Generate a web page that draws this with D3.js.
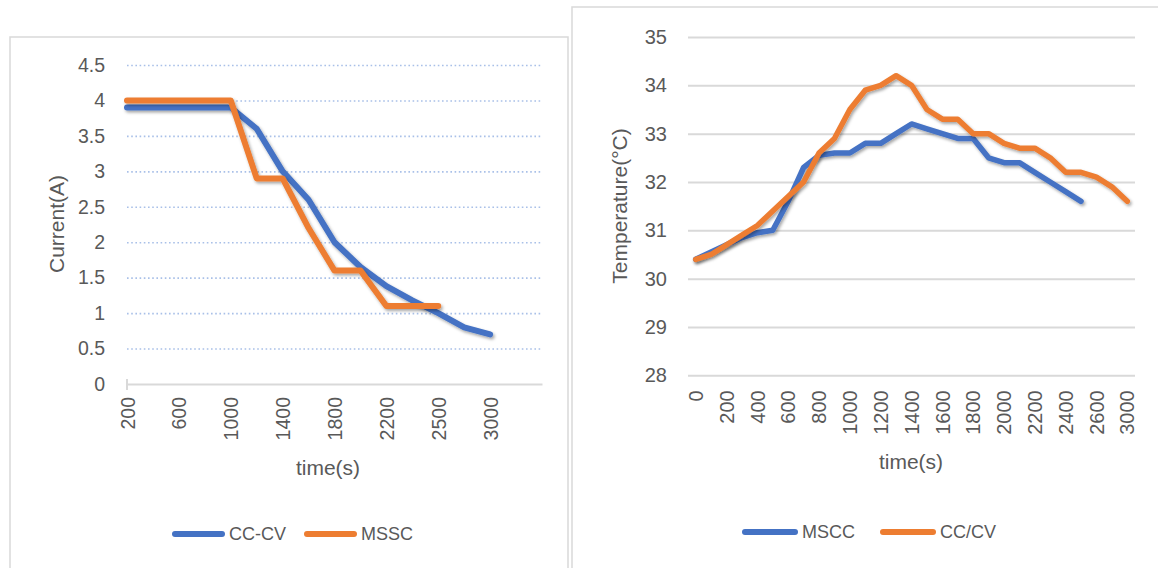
<!DOCTYPE html>
<html>
<head>
<meta charset="utf-8">
<script src="https://cdn.jsdelivr.net/npm/d3@7"></script>
<style>
  html, body { margin: 0; padding: 0; background: #fff; }
  svg { display: block; font-family: "Liberation Sans", Arial, sans-serif; }
</style>
</head>
<body>
<script>
// ---- Charging current (A) per time step ----
const currentTimes = ["200","400","600","800","1000","1200","1400","1600","1800","2000","2200","2350","2500","2750","3000"];
const currentCCCV  = [3.9,3.9,3.9,3.9,3.9,3.6,3.0,2.6,2.0,1.65,1.38,1.18,1.0,0.8,0.7];
const currentMSSC  = [4,4,4,4,4,2.9,2.9,2.2,1.6,1.6,1.1,1.1,1.1];
const currentTicks = [0,0.5,1,1.5,2,2.5,3,3.5,4,4.5];
const currentSlots = 17;          // category slots on the axis (last two are empty)

// ---- Cell temperature (°C) per time step ----
const tempTimes = ["0","100","200","300","400","500","600","700","800","900","1000","1100","1200","1300","1400",
                   "1500","1600","1700","1800","1900","2000","2100","2200","2300","2400","2500","2600","2800","3000"];
const tempMSCC = [30.4,30.55,30.7,30.85,30.95,31.0,31.6,32.3,32.55,32.6,32.6,32.8,32.8,33.0,33.2,
                  33.1,33.0,32.9,32.9,32.5,32.4,32.4,32.2,32.0,31.8,31.6];
const tempCCCV = [30.4,30.5,30.7,30.9,31.1,31.4,31.7,32.0,32.6,32.9,33.5,33.9,34.0,34.2,34.0,
                  33.5,33.3,33.3,33.0,33.0,32.8,32.7,32.7,32.5,32.2,32.2,32.1,31.9,31.6];
const tempTicks = [28,29,30,31,32,33,34,35];

const BLUE = "#4472c4", ORANGE = "#ed7d31", TEXT = "#595959", GRID = "#d9d9d9";

const svg = d3.select("body").append("svg").attr("width", 1158).attr("height", 568);

// soft drop shadow under the series lines
const defs = svg.append("defs");
const f = defs.append("filter").attr("id", "shadow")
  .attr("x", "-10%").attr("y", "-10%").attr("width", "120%").attr("height", "130%");
f.append("feDropShadow").attr("dx", 1.5).attr("dy", 2).attr("stdDeviation", 1.6)
  .attr("flood-color", "#000").attr("flood-opacity", 0.35);

svg.append("rect").attr("width", 1158).attr("height", 568).attr("fill", "#fff");

// chart frames
svg.append("rect").attr("x", 10).attr("y", 37).attr("width", 558).attr("height", 600)
  .attr("fill", "none").attr("stroke", GRID).attr("stroke-width", 1.5);
svg.append("rect").attr("x", 572).attr("y", 7).attr("width", 620).attr("height", 620)
  .attr("fill", "none").attr("stroke", GRID).attr("stroke-width", 1.5);

function styleText(sel, size) {
  sel.selectAll("text").attr("fill", TEXT).style("font-size", size + "px");
}

// ================= Left: current =================
{
  const x = d3.scalePoint().domain(d3.range(currentSlots)).range([127, 542]);
  const y = d3.scaleLinear().domain([0, 4.5]).range([384, 65]);
  const g = svg.append("g");

  // dotted horizontal gridlines
  const grid = g.append("g").attr("transform", "translate(127,0)")
    .call(d3.axisLeft(y).tickValues(currentTicks.filter(v => v > 0)).tickSize(-415).tickFormat(""));
  grid.select(".domain").remove();
  grid.selectAll("line").attr("stroke", "#a9c0e8").attr("stroke-width", 1.6).attr("stroke-dasharray", "1.6,2.6");

  // y tick labels
  const ya = g.append("g").attr("transform", "translate(127,0)")
    .call(d3.axisLeft(y).tickValues(currentTicks).tickSize(0).tickPadding(22).tickFormat(d3.format("")));
  ya.select(".domain").remove();
  styleText(ya, 19.5);

  // x axis: every second category is labelled
  const labelled = d3.range(0, currentTimes.length, 2);
  const xa = g.append("g").attr("transform", "translate(0,384)")
    .call(d3.axisBottom(x).tickValues(labelled).tickSize(0).tickSizeOuter(0)
      .tickFormat(i => currentTimes[i]));
  xa.select(".domain").attr("stroke", GRID).attr("stroke-width", 2);
  xa.selectAll("text").attr("transform", "rotate(-90)").attr("text-anchor", "end")
    .attr("x", -13).attr("y", 0).attr("dy", "0.36em");
  styleText(xa, 19.5);
  g.append("line").attr("x1", x(0)).attr("x2", x(0))
    .attr("y1", 379).attr("y2", 390).attr("stroke", GRID).attr("stroke-width", 2);

  const lineOf = vals => d3.line().x((d, i) => x(i)).y(d => y(d))(vals);
  [[currentCCCV, BLUE], [currentMSSC, ORANGE]].forEach(([vals, c]) => {
    g.append("path").attr("d", lineOf(vals)).attr("fill", "none").attr("stroke", c)
      .attr("stroke-width", 6).attr("stroke-linejoin", "round").attr("stroke-linecap", "round")
      .attr("filter", "url(#shadow)");
  });

  // axis titles
  g.append("text").attr("transform", "translate(64,224) rotate(-90)").attr("text-anchor", "middle")
    .attr("fill", TEXT).style("font-size", "21px").text("Current(A)");
  g.append("text").attr("x", 328).attr("y", 475).attr("text-anchor", "middle")
    .attr("fill", TEXT).style("font-size", "21px").text("time(s)");

  // legend
  const leg = [["CC-CV", BLUE, 172], ["MSSC", ORANGE, 304]];
  leg.forEach(([name, c, lx]) => {
    g.append("line").attr("x1", lx + 3).attr("x2", lx + 50).attr("y1", 534).attr("y2", 534)
      .attr("stroke", c).attr("stroke-width", 6).attr("stroke-linecap", "round");
    g.append("text").attr("x", lx + 57).attr("y", 534).attr("dy", "0.36em")
      .attr("fill", TEXT).style("font-size", "18px").text(name);
  });
}

// ================= Right: temperature =================
{
  const x = d3.scaleBand().domain(tempTimes).range([688, 1135]).paddingInner(0).paddingOuter(0);
  const y = d3.scaleLinear().domain([28, 35]).range([375.3, 37]);
  const g = svg.append("g");

  const grid = g.append("g").attr("transform", "translate(688,0)")
    .call(d3.axisLeft(y).tickValues(tempTicks).tickSize(-447).tickFormat(""));
  grid.select(".domain").remove();
  grid.selectAll("line").attr("stroke", GRID).attr("stroke-width", 2);

  const ya = g.append("g").attr("transform", "translate(688,0)")
    .call(d3.axisLeft(y).tickValues(tempTicks).tickSize(0).tickPadding(21).tickFormat(d3.format("d")));
  ya.select(".domain").remove();
  styleText(ya, 20);

  // every second time step is labelled
  const labelled = tempTimes.filter((t, i) => i % 2 === 0);
  const xa = g.append("g").attr("transform", "translate(0,375.3)")
    .call(d3.axisBottom(x).tickValues(labelled).tickSize(0).tickSizeOuter(0));
  xa.select(".domain").remove();
  xa.selectAll("text").attr("transform", "rotate(-90)").attr("text-anchor", "end")
    .attr("x", -15).attr("y", 0).attr("dy", "0.36em");
  styleText(xa, 20);

  const cx = t => x(t) + x.bandwidth() / 2;
  const lineOf = vals => d3.line().x((d, i) => cx(tempTimes[i])).y(d => y(d))(vals);
  [[tempMSCC, BLUE], [tempCCCV, ORANGE]].forEach(([vals, c]) => {
    g.append("path").attr("d", lineOf(vals)).attr("fill", "none").attr("stroke", c)
      .attr("stroke-width", 5.5).attr("stroke-linejoin", "round").attr("stroke-linecap", "round")
      .attr("filter", "url(#shadow)");
  });

  g.append("text").attr("transform", "translate(627,206) rotate(-90)").attr("text-anchor", "middle")
    .attr("fill", TEXT).style("font-size", "21px").text("Temperature(°C)");
  g.append("text").attr("x", 911).attr("y", 469).attr("text-anchor", "middle")
    .attr("fill", TEXT).style("font-size", "21px").text("time(s)");

  const leg = [["MSCC", BLUE, 742], ["CC/CV", ORANGE, 880]];
  leg.forEach(([name, c, lx]) => {
    g.append("line").attr("x1", lx + 3).attr("x2", lx + 53).attr("y1", 532).attr("y2", 532)
      .attr("stroke", c).attr("stroke-width", 6).attr("stroke-linecap", "round");
    g.append("text").attr("x", lx + 60).attr("y", 532).attr("dy", "0.36em")
      .attr("fill", TEXT).style("font-size", "18px").text(name);
  });
}
</script>
</body>
</html>
